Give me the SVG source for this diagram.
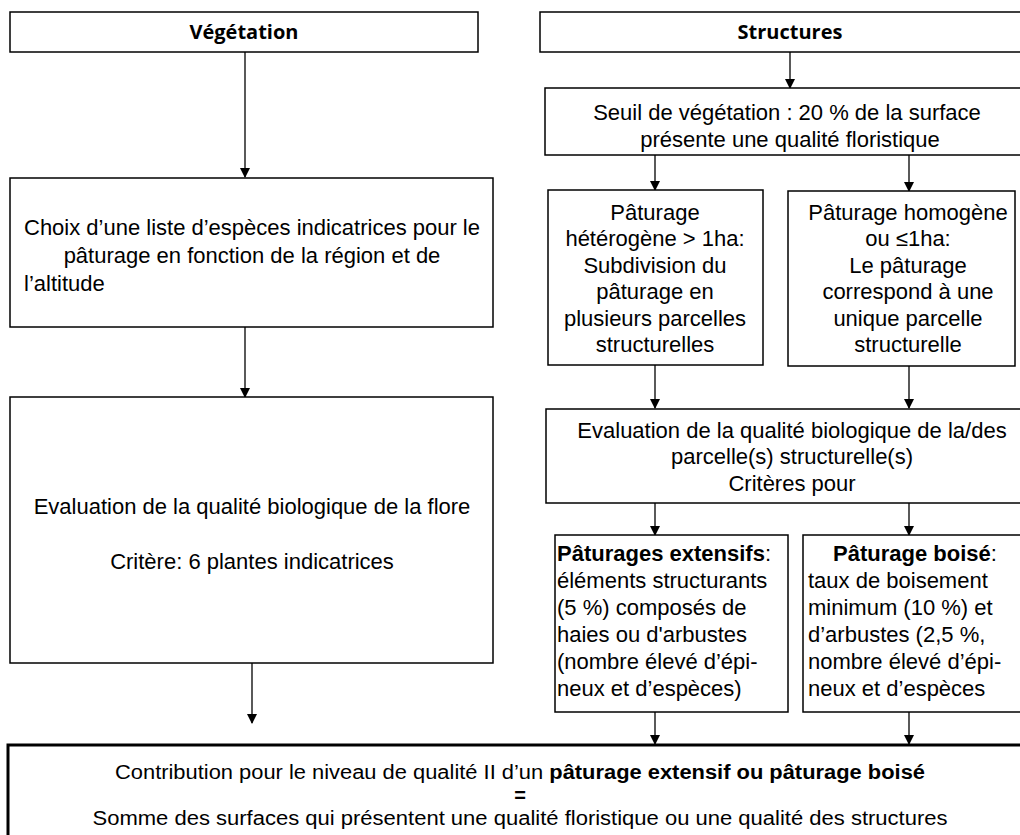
<svg xmlns="http://www.w3.org/2000/svg" width="1020" height="835" viewBox="0 0 1020 835">
<style>
.box{fill:#fff;stroke:#000;stroke-width:1.5}
.bbox{fill:#fff;stroke:#000;stroke-width:3}
.t{font-family:"Liberation Sans",Arial,sans-serif;font-size:22px;fill:#000}
.c{text-anchor:middle}
.h{font-family:"Open Sans","Liberation Sans",sans-serif;font-size:20px;font-weight:bold;text-anchor:middle}
.n{font-family:"Liberation Sans",Arial,sans-serif;font-size:20px;text-anchor:middle}
.ln{stroke:#000;stroke-width:1.3;fill:none;marker-end:url(#ah)}
</style>
<defs>
<marker id="ah" markerWidth="10" markerHeight="10" refX="9" refY="5" orient="auto" markerUnits="userSpaceOnUse">
<path d="M0,0 L10,5 L0,10 z" fill="#000"/>
</marker>
</defs>
<rect width="1020" height="835" fill="#fff"/>
<g id="connectors">
<line class="ln" x1="245" y1="52" x2="245" y2="177"/>
<line class="ln" x1="245" y1="327" x2="245" y2="397"/>
<line class="ln" x1="252" y1="663" x2="252" y2="723"/>
<line class="ln" x1="790" y1="52" x2="790" y2="88"/>
<line class="ln" x1="655" y1="155" x2="655" y2="190"/>
<line class="ln" x1="909" y1="155" x2="909" y2="191"/>
<line class="ln" x1="655" y1="365" x2="655" y2="408"/>
<line class="ln" x1="909" y1="366" x2="909" y2="408"/>
<line class="ln" x1="655" y1="503" x2="655" y2="535"/>
<line class="ln" x1="909" y1="503" x2="909" y2="535"/>
<line class="ln" x1="655" y1="712" x2="655" y2="744"/>
<line class="ln" x1="909" y1="712" x2="909" y2="744"/>
</g>
<g id="vegetation">
<rect class="box" x="10" y="12" width="468" height="40"/>
<text class="h" x="244" y="39">Végétation</text>
</g>
<g id="choix">
<rect class="box" x="10" y="178" width="483" height="149"/>
<text class="t" x="24" y="235" textLength="456" lengthAdjust="spacing">Choix d’une liste d’espèces indicatrices pour le</text>
<text class="t c" x="252" y="263">pâturage en fonction de la région et de</text>
<text class="t" x="24" y="291">l’altitude</text>
</g>
<g id="eval-flore">
<rect class="box" x="10" y="397" width="483" height="266"/>
<text class="t c" x="252" y="514">Evaluation de la qualité biologique de la flore</text>
<text class="t c" x="252" y="569">Critère: 6 plantes indicatrices</text>
</g>
<g id="structures">
<rect class="box" x="540" y="12" width="490" height="40"/>
<text class="h" x="790" y="39">Structures</text>
</g>
<g id="seuil">
<rect class="box" x="545" y="88" width="485" height="67"/>
<text class="t c" x="787" y="120">Seuil de végétation : 20 % de la surface</text>
<text class="t c" x="790" y="147">présente une qualité floristique</text>
</g>
<g id="heterogene">
<rect class="box" x="548" y="190" width="215" height="175"/>
<text class="t c" x="655" y="220">Pâturage</text>
<text class="t c" x="655" y="246">hétérogène &gt; 1ha:</text>
<text class="t c" x="655" y="273">Subdivision du</text>
<text class="t c" x="655" y="299">pâturage en</text>
<text class="t c" x="655" y="326">plusieurs parcelles</text>
<text class="t c" x="655" y="352">structurelles</text>
</g>
<g id="homogene">
<rect class="box" x="788" y="191" width="227" height="175"/>
<text class="t c" x="908" y="220">Pâturage homogène</text>
<text class="t c" x="908" y="246">ou ≤1ha:</text>
<text class="t c" x="908" y="273">Le pâturage</text>
<text class="t c" x="908" y="299">correspond à une</text>
<text class="t c" x="908" y="326">unique parcelle</text>
<text class="t c" x="908" y="352">structurelle</text>
</g>
<g id="eval-structures">
<rect class="box" x="546" y="409" width="484" height="94"/>
<text class="t c" x="792" y="438">Evaluation de la qualité biologique de la/des</text>
<text class="t c" x="792" y="464">parcelle(s) structurelle(s)</text>
<text class="t c" x="792" y="491">Critères pour</text>
</g>
<g id="extensifs">
<rect class="box" x="555" y="535" width="233" height="177"/>
<text class="t" x="557" y="561"><tspan font-weight="bold">Pâturages extensifs</tspan>:</text>
<text class="t" x="557" y="588">éléments structurants</text>
<text class="t" x="557" y="615">(5 %) composés de</text>
<text class="t" x="557" y="642">haies ou d'arbustes</text>
<text class="t" x="557" y="669">(nombre élevé d’épi-</text>
<text class="t" x="557" y="696">neux et d’espèces)</text>
</g>
<g id="boise">
<rect class="box" x="803" y="535" width="227" height="177"/>
<text class="t" x="833" y="561"><tspan font-weight="bold">Pâturage boisé</tspan>:</text>
<text class="t" x="808" y="588">taux de boisement</text>
<text class="t" x="808" y="615">minimum (10 %) et</text>
<text class="t" x="808" y="642">d’arbustes (2,5 %,</text>
<text class="t" x="808" y="669">nombre élevé d’épi-</text>
<text class="t" x="808" y="696">neux et d’espèces</text>
</g>
<g id="contribution">
<rect class="bbox" x="8" y="745" width="1030" height="100"/>
<text class="n" x="520" y="779" textLength="810" lengthAdjust="spacingAndGlyphs">Contribution pour le niveau de qualité II d’un <tspan font-weight="bold">pâturage extensif ou pâturage boisé</tspan></text>
<text class="n" x="520" y="802" font-weight="bold">=</text>
<text class="n" x="520" y="825" textLength="855" lengthAdjust="spacingAndGlyphs">Somme des surfaces qui présentent une qualité floristique ou une qualité des structures</text>
</g>
</svg>
